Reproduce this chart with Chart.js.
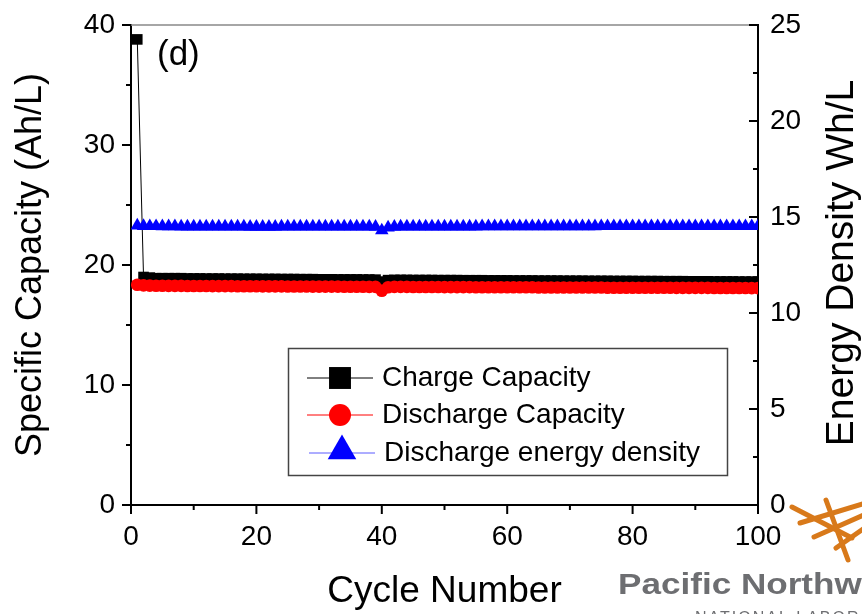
<!DOCTYPE html>
<html>
<head>
<meta charset="utf-8">
<title>Specific capacity vs cycle</title>
<script src="https://cdn.jsdelivr.net/npm/chart.js@4.4.0/dist/chart.umd.min.js"></script>
<style>
  html, body { margin: 0; padding: 0; background: #fff; }
  #wrap { width: 862px; height: 614px; position: relative; }
</style>
</head>
<body>
<div id="wrap"><canvas id="capChart" width="862" height="614"></canvas></div>
<script>
// cycle numbers (x axis)
const cycles = [1, 2, 3, 4, 5, 6, 7, 8, 9, 10,
  11, 12, 13, 14, 15, 16, 17, 18, 19, 20,
  21, 22, 23, 24, 25, 26, 27, 28, 29, 30,
  31, 32, 33, 34, 35, 36, 37, 38, 39, 40,
  41, 42, 43, 44, 45, 46, 47, 48, 49, 50,
  51, 52, 53, 54, 55, 56, 57, 58, 59, 60,
  61, 62, 63, 64, 65, 66, 67, 68, 69, 70,
  71, 72, 73, 74, 75, 76, 77, 78, 79, 80,
  81, 82, 83, 84, 85, 86, 87, 88, 89, 90,
  91, 92, 93, 94, 95, 96, 97, 98, 99, 100];

// Ah/L, left axis
const chargeCapacity = [38.8, 19.0, 18.95, 18.9, 18.9, 18.9, 18.9, 18.9, 18.88, 18.88,
  18.88, 18.87, 18.87, 18.87, 18.86, 18.86, 18.86, 18.85, 18.85, 18.85,
  18.84, 18.84, 18.84, 18.83, 18.83, 18.83, 18.82, 18.82, 18.82, 18.81,
  18.81, 18.81, 18.8, 18.8, 18.8, 18.8, 18.79, 18.79, 18.78, 18.62,
  18.74, 18.76, 18.76, 18.76, 18.75, 18.75, 18.75, 18.75, 18.74, 18.74,
  18.74, 18.74, 18.73, 18.73, 18.73, 18.73, 18.72, 18.72, 18.72, 18.72,
  18.71, 18.71, 18.71, 18.71, 18.7, 18.7, 18.7, 18.7, 18.69, 18.69,
  18.69, 18.69, 18.68, 18.68, 18.68, 18.68, 18.67, 18.67, 18.67, 18.67,
  18.66, 18.66, 18.66, 18.66, 18.65, 18.65, 18.65, 18.65, 18.64, 18.64,
  18.64, 18.64, 18.63, 18.63, 18.63, 18.63, 18.62, 18.62, 18.62, 18.62];

const dischargeCapacity = [18.35, 18.3, 18.28, 18.27, 18.27, 18.26, 18.26, 18.26, 18.25, 18.25,
  18.25, 18.25, 18.24, 18.24, 18.24, 18.24, 18.23, 18.23, 18.23, 18.23,
  18.22, 18.22, 18.22, 18.22, 18.21, 18.21, 18.21, 18.21, 18.2, 18.2,
  18.2, 18.2, 18.2, 18.19, 18.19, 18.19, 18.19, 18.18, 18.18, 17.85,
  18.15, 18.18, 18.18, 18.18, 18.17, 18.17, 18.17, 18.17, 18.17, 18.16,
  18.16, 18.16, 18.16, 18.16, 18.15, 18.15, 18.15, 18.15, 18.15, 18.14,
  18.14, 18.14, 18.14, 18.14, 18.13, 18.13, 18.13, 18.13, 18.13, 18.12,
  18.12, 18.12, 18.12, 18.12, 18.12, 18.11, 18.11, 18.11, 18.11, 18.11,
  18.1, 18.1, 18.1, 18.1, 18.1, 18.1, 18.09, 18.09, 18.09, 18.09,
  18.09, 18.09, 18.08, 18.08, 18.08, 18.08, 18.08, 18.08, 18.07, 18.07];

// Wh/L, right axis
const energyDensity = [14.55, 14.53, 14.52, 14.52, 14.51, 14.51, 14.51, 14.5, 14.5, 14.5,
  14.5, 14.5, 14.5, 14.5, 14.5, 14.5, 14.5, 14.5, 14.49, 14.49,
  14.49, 14.49, 14.49, 14.5, 14.5, 14.5, 14.5, 14.5, 14.5, 14.5,
  14.5, 14.5, 14.5, 14.5, 14.5, 14.5, 14.5, 14.5, 14.49, 14.3,
  14.45, 14.49, 14.5, 14.5, 14.5, 14.5, 14.5, 14.5, 14.5, 14.5,
  14.5, 14.5, 14.5, 14.5, 14.5, 14.51, 14.51, 14.51, 14.51, 14.51,
  14.51, 14.51, 14.51, 14.51, 14.51, 14.51, 14.51, 14.51, 14.51, 14.51,
  14.51, 14.51, 14.51, 14.51, 14.52, 14.52, 14.52, 14.52, 14.52, 14.52,
  14.52, 14.52, 14.52, 14.52, 14.52, 14.52, 14.52, 14.52, 14.52, 14.52,
  14.52, 14.52, 14.52, 14.52, 14.52, 14.52, 14.52, 14.52, 14.52, 14.52];

// tick marks
const xMajorTicks = [0, 20, 40, 60, 80, 100];
const xMinorTicks = [10, 30, 50, 70, 90];
const yMajorTicks = [0, 10, 20, 30, 40];
const yMinorTicks = [5, 15, 25, 35];
const y2MajorTicks = [0, 5, 10, 15, 20, 25];
const y2MinorTicks = [2.5, 7.5, 12.5, 17.5, 22.5];

const legendLabels = ['Charge Capacity', 'Discharge Capacity', 'Discharge energy density'];

const FONT = 'Liberation Sans, Arial, sans-serif';

function toPoints(xs, ys) {
    return xs.map((x, i) => ({ x: x, y: ys[i] }));
}

// fallback marker drawing in case helpers are not exposed
function marker(ctx, style, r, x, y) {
    if (Chart.helpers && Chart.helpers.drawPoint) {
        Chart.helpers.drawPoint(ctx, { pointStyle: style, radius: r, rotation: 0, borderWidth: 0 }, x, y);
        return;
    }
    ctx.beginPath();
    if (style === 'rect') {
        const s = r * Math.SQRT1_2;
        ctx.rect(x - s, y - s, 2 * s, 2 * s);
    } else if (style === 'circle') {
        ctx.arc(x, y, r, 0, Math.PI * 2);
    } else {
        ctx.moveTo(x, y - r);
        ctx.lineTo(x + r * 0.866, y + r / 2);
        ctx.lineTo(x - r * 0.866, y + r / 2);
        ctx.closePath();
    }
    ctx.fill();
}

// keep the plot box where the original has it
function fixVertical(width) {
    return s => {
        s.width = width;
        s.paddingTop = 0;
        s.paddingBottom = 0;
    };
}

const decorPlugin = {
    id: 'decor',
    beforeDraw(chart) {
        const ctx = chart.ctx;
        ctx.save();
        ctx.fillStyle = '#fff';
        ctx.fillRect(0, 0, chart.width, chart.height);
        ctx.restore();
    },
    afterDraw(chart) {
        const ctx = chart.ctx;
        const area = chart.chartArea;
        const sx = chart.scales.x, sy = chart.scales.y, sy2 = chart.scales.y2;
        ctx.save();

        // top frame line
        ctx.strokeStyle = '#888';
        ctx.lineWidth = 1.5;
        ctx.beginPath();
        ctx.moveTo(area.left, area.top);
        ctx.lineTo(area.right, area.top);
        ctx.stroke();

        // tick marks
        ctx.strokeStyle = '#000';
        ctx.lineWidth = 2;
        function tick(x1, y1, x2, y2) {
            ctx.beginPath();
            ctx.moveTo(x1, y1);
            ctx.lineTo(x2, y2);
            ctx.stroke();
        }
        xMajorTicks.forEach(v => { const p = sx.getPixelForValue(v); tick(p, area.bottom, p, area.bottom + 9); });
        xMinorTicks.forEach(v => { const p = sx.getPixelForValue(v); tick(p, area.bottom, p, area.bottom + 5); });
        yMajorTicks.forEach(v => { const p = sy.getPixelForValue(v); tick(area.left - 9, p, area.left, p); });
        yMinorTicks.forEach(v => { const p = sy.getPixelForValue(v); tick(area.left - 5, p, area.left, p); });
        y2MajorTicks.forEach(v => { const p = sy2.getPixelForValue(v); tick(area.right - 9, p, area.right, p); });
        y2MinorTicks.forEach(v => { const p = sy2.getPixelForValue(v); tick(area.right - 5, p, area.right, p); });

        // panel label
        ctx.fillStyle = '#000';
        ctx.font = '35px ' + FONT;
        ctx.textAlign = 'left';
        ctx.textBaseline = 'middle';
        ctx.fillText('(d)', 157, 55);

        // right axis title, reads bottom to top
        ctx.save();
        ctx.translate(842, 263);
        ctx.rotate(-Math.PI / 2);
        ctx.font = '39px ' + FONT;
        ctx.textAlign = 'center';
        ctx.textBaseline = 'middle';
        ctx.fillText('Energy Density Wh/L', 0, 0);
        ctx.restore();

        // legend box
        ctx.strokeStyle = '#444';
        ctx.lineWidth = 1.5;
        ctx.strokeRect(288.5, 348.5, 439, 127);
        const rows = [
            { y: 378, color: '#000', line: '#000', style: 'rect', r: 15.5, x0: 307, x1: 373, tx: 382 },
            { y: 415, color: '#ff0000', line: '#ff0000', style: 'circle', r: 11, x0: 307, x1: 373, tx: 382 },
            { y: 453, color: '#0000ff', line: '#5a5aff', style: 'triangle', r: 16.5, x0: 309, x1: 375, tx: 384 }
        ];
        rows.forEach((row, i) => {
            ctx.strokeStyle = row.line;
            ctx.lineWidth = 1;
            tick(row.x0, row.y, row.x1, row.y);
            ctx.fillStyle = row.color;
            marker(ctx, row.style, row.r, (row.x0 + row.x1) / 2, row.style === 'triangle' ? row.y - 2 : row.y);
            ctx.fillStyle = '#000';
            ctx.font = '28px ' + FONT;
            ctx.textAlign = 'left';
            ctx.textBaseline = 'middle';
            ctx.fillText(legendLabels[i], row.tx, row.y);
        });

        // PNNL logo, partly off the edge like the source
        ctx.strokeStyle = '#d8791a';
        ctx.lineWidth = 5;
        ctx.lineCap = 'round';
        tick(792, 507, 852, 538);
        tick(800, 523, 866, 503);
        tick(814, 537, 866, 514);
        tick(836, 548, 866, 527);
        tick(826, 500, 848, 560);
        ctx.save();
        ctx.translate(618, 594);
        ctx.scale(1.17, 1);
        ctx.fillStyle = '#6d6e71';
        ctx.font = 'bold 30px ' + FONT;
        ctx.textAlign = 'left';
        ctx.textBaseline = 'alphabetic';
        ctx.fillText('Pacific Northwest', 0, 0);
        ctx.restore();
        ctx.fillStyle = '#6d6e71';
        ctx.font = '16px ' + FONT;
        if ('letterSpacing' in ctx) ctx.letterSpacing = '2px';
        ctx.fillText('NATIONAL LABORATORY', 695, 619);
        ctx.restore();
    }
};

const ctx = document.getElementById('capChart').getContext('2d');
new Chart(ctx, {
    type: 'line',
    data: {
        datasets: [{
            label: legendLabels[0],
            data: toPoints(cycles, chargeCapacity),
            yAxisID: 'y',
            borderColor: '#000',
            backgroundColor: '#000',
            borderWidth: 1,
            pointStyle: 'rect',
            pointRadius: 7.5,
            pointBorderWidth: 0,
            order: 2
        }, {
            label: legendLabels[1],
            data: toPoints(cycles, dischargeCapacity),
            yAxisID: 'y',
            borderColor: '#ff0000',
            backgroundColor: '#ff0000',
            borderWidth: 1,
            pointStyle: 'circle',
            pointRadius: 6.3,
            pointBorderWidth: 0,
            order: 1
        }, {
            label: legendLabels[2],
            data: toPoints(cycles, energyDensity),
            yAxisID: 'y2',
            borderColor: '#0000ff',
            backgroundColor: '#0000ff',
            borderWidth: 1,
            pointStyle: 'triangle',
            pointRadius: 7.8,
            pointBorderWidth: 0,
            order: 0
        }]
    },
    options: {
        responsive: false,
        animation: false,
        devicePixelRatio: 1,
        clip: 0,
        layout: { padding: { top: 25, left: 0, right: 0, bottom: 0 } },
        plugins: {
            legend: { display: false },
            tooltip: { enabled: false }
        },
        scales: {
            x: {
                type: 'linear',
                position: 'bottom',
                min: 0,
                max: 100,
                grid: { display: false, drawTicks: false },
                border: { color: '#000', width: 2 },
                ticks: { stepSize: 20, color: '#000', font: { family: FONT, size: 28 }, padding: 15, maxRotation: 0 },
                title: { display: true, text: 'Cycle Number', color: '#000', font: { family: FONT, size: 37 }, padding: { top: 0, bottom: 0 } },
                afterFit: s => { s.height = 109; s.paddingLeft = 0; s.paddingRight = 0; }
            },
            y: {
                position: 'left',
                min: 0,
                max: 40,
                grid: { display: false, drawTicks: false },
                border: { color: '#000', width: 2 },
                ticks: { stepSize: 10, color: '#000', font: { family: FONT, size: 28 }, padding: 16 },
                title: { display: true, text: 'Specific Capacity (Ah/L)', color: '#000', font: { family: FONT, size: 36 }, padding: { top: 9, bottom: 0 } },
                afterFit: fixVertical(131)
            },
            y2: {
                position: 'right',
                min: 0,
                max: 25,
                grid: { display: false, drawTicks: false },
                border: { color: '#000', width: 2 },
                ticks: { stepSize: 5, color: '#000', font: { family: FONT, size: 28 }, padding: 12 },
                afterFit: fixVertical(104)
            }
        }
    },
    plugins: [decorPlugin]
});
</script>
</body>
</html>
